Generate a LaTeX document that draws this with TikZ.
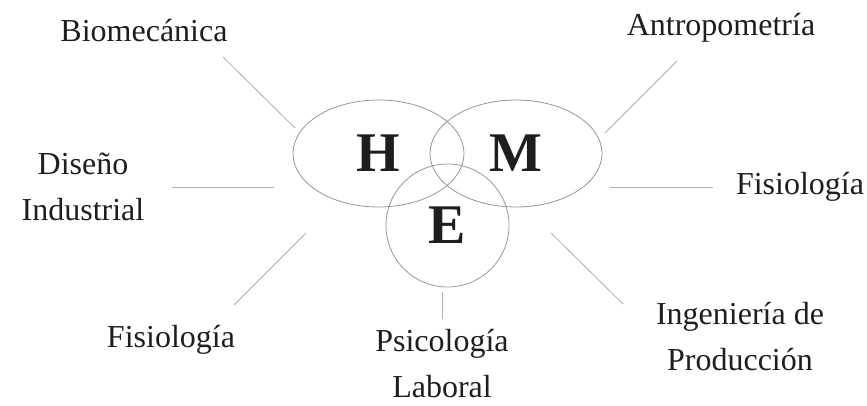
\documentclass[tikz,border=0pt]{standalone}
\usepackage{fontspec}
\setmainfont{Liberation Serif}
\usetikzlibrary{shapes.geometric}
\definecolor{rimgray}{RGB}{150,150,150}
\definecolor{spokegray}{RGB}{175,175,175}
\definecolor{inkgray}{RGB}{30,30,30}

\begin{document}
\begin{tikzpicture}[x=1pt,y=-1pt,font=\fontsize{32}{46}\selectfont,text=inkgray,
  rim/.style={ellipse,draw=rimgray,line width=.8pt,inner sep=0pt,
    font=\fontsize{56}{56}\selectfont\bfseries},
  spoke/.style={draw=spokegray,line width=.8pt},
  lbl/.style={align=center,inner sep=0pt,anchor=base}]
\useasboundingbox (0,0) rectangle (867,406);

% the three sets
\node[rim,minimum width=171,minimum height=107] (h) at (378.5,153.5) {H};
\node[rim,minimum width=172,minimum height=107] (m) at (516,153.5) {M};
\node[rim,circle,minimum size=123] (e) at (447.5,225.5) {E};

% labels (base = last line)
\node[lbl] (bio) at (144,42) {Biomecánica};
\node[lbl] (ant) at (721,36) {Antropometría};
\node[lbl] (dis) at (83,220) {Diseño\\Industrial};
\node[lbl] (fisr) at (800,195) {Fisiología};
\node[lbl] (fisl) at (171,347) {Fisiología};
\node[lbl] (psi) at (442,397) {Psicología\\Laboral};
\node[lbl] (ing) at (740,370) {Ingeniería de\\Producción};

% spokes
\coordinate (bio1) at (223,57);  \coordinate (bio2) at (295,128);
\coordinate (dis1) at (172,187); \coordinate (dis2) at (274,187);
\coordinate (ant1) at (677,61);  \coordinate (ant2) at (605,133);
\coordinate (fis1) at (713,187); \coordinate (fis2) at (610,187);
\coordinate (fil1) at (234,305); \coordinate (fil2) at (306,233);
\coordinate (psi1) at (442,319); \coordinate (psi2) at (442,292);
\coordinate (ing1) at (623,304); \coordinate (ing2) at (551,233);

\draw[spoke] (bio1) -- (bio2);
\draw[spoke] (dis1) -- (dis2);
\draw[spoke] (ant1) -- (ant2);
\draw[spoke] (fis1) -- (fis2);
\draw[spoke] (fil1) -- (fil2);
\draw[spoke] (psi1) -- (psi2);
\draw[spoke] (ing1) -- (ing2);

\end{tikzpicture}
\end{document}
